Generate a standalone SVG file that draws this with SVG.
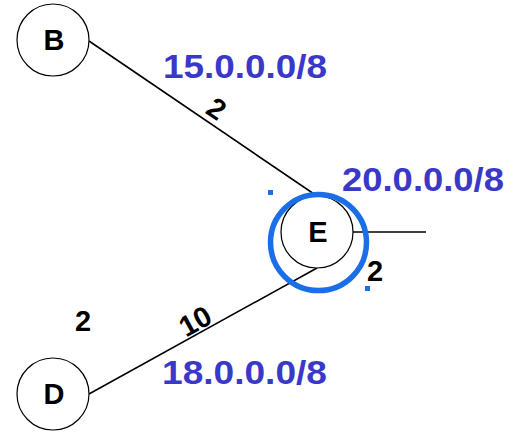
<svg xmlns="http://www.w3.org/2000/svg" width="517" height="433" viewBox="0 0 517 433">
<style>
.node{fill:#fff;stroke:#000;stroke-width:1.2}
.nl{font-family:"Liberation Sans",Arial,sans-serif;font-weight:bold;font-size:29px;text-anchor:middle;fill:#000}
.el{font-family:"Liberation Sans",Arial,sans-serif;font-weight:bold;font-size:29px;text-anchor:middle;fill:#000}
.net{font-family:"Liberation Sans",Arial,sans-serif;font-weight:bold;font-size:34px;fill:#3a38c8}
.edge{stroke:#000;stroke-width:1.6;fill:none}
.mark{fill:#1a6ee8}
</style>
<rect width="517" height="433" fill="#fff"/>
<g id="connectors">
<line class="edge" x1="89" y1="41" x2="317" y2="196"/>
<line class="edge" x1="89" y1="394" x2="317" y2="268"/>
<line class="edge" x1="353" y1="232" x2="426" y2="232"/>
</g>
<g id="node-B"><circle class="node" cx="53" cy="40" r="36"/><text class="nl" x="54" y="50">B</text></g>
<g id="node-D"><circle class="node" cx="53" cy="394" r="36"/><text class="nl" x="54" y="404">D</text></g>
<g id="node-E"><circle class="node" cx="317" cy="232" r="36"/><text class="nl" x="318" y="242">E</text></g>
<g id="highlight">
<circle cx="318.5" cy="242.5" r="48" fill="none" stroke="#1a6ee8" stroke-width="5.5"/>
<rect class="mark" x="268" y="190" width="5" height="5"/>
<rect class="mark" x="365" y="286" width="5" height="5"/>
</g>
<g id="labels">
<text class="net" x="163" y="78" textLength="164" lengthAdjust="spacingAndGlyphs">15.0.0.0/8</text>
<text class="net" x="342" y="191" textLength="162" lengthAdjust="spacingAndGlyphs">20.0.0.0/8</text>
<text class="net" x="162" y="384" textLength="165" lengthAdjust="spacingAndGlyphs">18.0.0.0/8</text>
<text class="el" transform="translate(211,117) rotate(34)">2</text>
<text class="el" transform="translate(200,330) rotate(-29)">10</text>
<text class="el" x="83" y="331">2</text>
<text class="el" x="375" y="281">2</text>
</g>
</svg>
